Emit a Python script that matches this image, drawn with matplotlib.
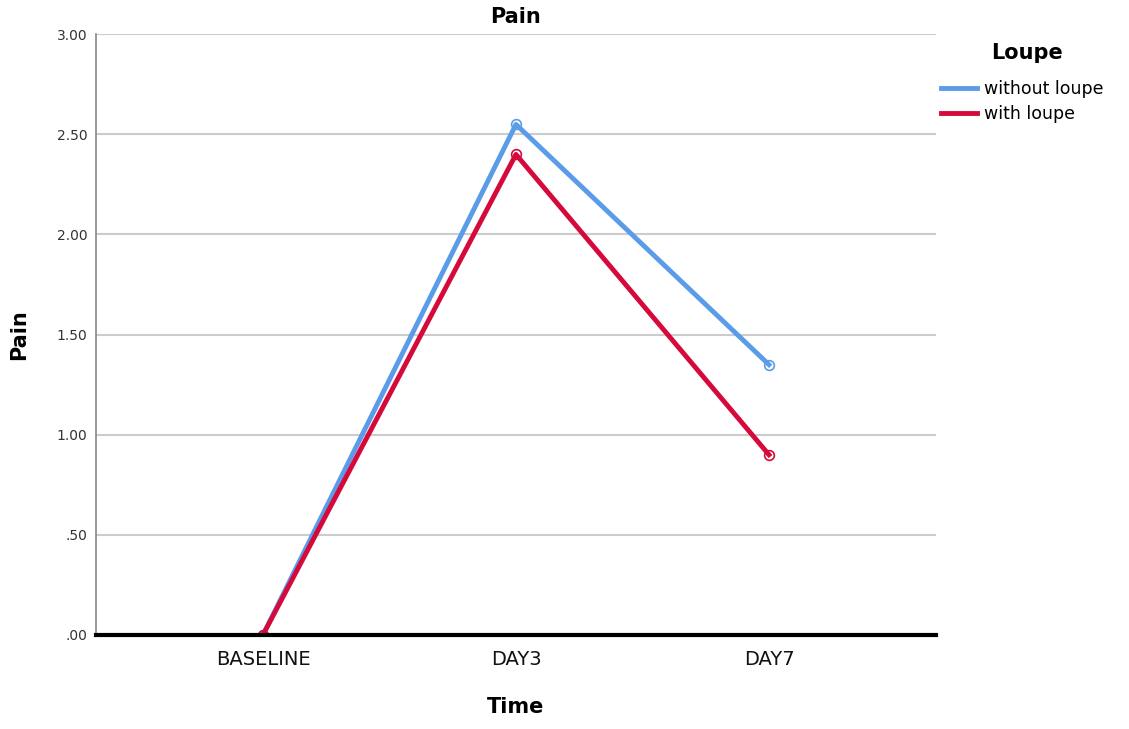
import matplotlib
matplotlib.use('Agg')
import matplotlib.pyplot as plt
from matplotlib.lines import Line2D

# data
time_points = ['BASELINE', 'DAY3', 'DAY7']
without_loupe = [0.0, 2.55, 1.35]
with_loupe = [0.0, 2.40, 0.90]
y_ticks = [0.0, 0.5, 1.0, 1.5, 2.0, 2.5, 3.0]
y_tick_labels = ['.00', '.50', '1.00', '1.50', '2.00', '2.50', '3.00']
series_names = ['without loupe', 'with loupe']

blue = '#5b9ce8'
red = '#d6093b'

plt.rcParams['font.family'] = ['DejaVu Sans']

fig = plt.figure(figsize=(11.29, 7.29), dpi=100)
ax = fig.add_axes([0.085, 0.129, 0.744, 0.824])

x = list(range(len(time_points)))
ax.plot(x, without_loupe, color=blue, linewidth=3.5, marker='o', markersize=7,
        markerfacecolor='none', markeredgewidth=1.2, zorder=3)
ax.plot(x, with_loupe, color=red, linewidth=3.5, marker='o', markersize=7,
        markerfacecolor='none', markeredgewidth=1.2, zorder=4)

ax.set_xlim(-0.66, 2.66)
ax.set_ylim(0, 3.0)
ax.set_yticks(y_ticks)
ax.set_yticklabels(y_tick_labels, fontsize=10, color='#333333')
ax.set_xticks(x)
ax.set_xticklabels(time_points, fontsize=14, color='#111111')
ax.tick_params(axis='both', length=0, pad=6)
ax.tick_params(axis='x', pad=11)

ax.grid(axis='y', color='#cccccc', linewidth=1.5, zorder=0)
ax.set_axisbelow(True)
for s in ['top', 'right']:
    ax.spines[s].set_visible(False)
ax.spines['left'].set_color('#888888')
ax.spines['left'].set_linewidth(1.2)
ax.spines['bottom'].set_color('black')
ax.spines['bottom'].set_linewidth(3)
ax.spines['bottom'].set_zorder(5)

ax.set_title('Pain', fontsize=15, fontweight='bold', pad=8)
ax.set_ylabel('Pain', fontsize=15, fontweight='bold', labelpad=20)
ax.set_xlabel('Time', fontsize=15, fontweight='bold', labelpad=20)

# legend title drawn separately to match the spacing
fig.text(1027 / 1129, 1 - 53 / 729, 'Loupe', fontsize=15, fontweight='bold',
         ha='center', va='center')
handles = [Line2D([0], [0], color=blue, linewidth=3.5),
           Line2D([0], [0], color=red, linewidth=3.5)]
fig.legend(handles, series_names, loc='upper left',
           bbox_to_anchor=(941 / 1129, 1 - 80 / 729), frameon=False,
           fontsize=12.5, handlelength=2.1, handletextpad=0.35,
           labelspacing=0.4, borderaxespad=0, borderpad=0)

fig.savefig('out.png', dpi=100)
